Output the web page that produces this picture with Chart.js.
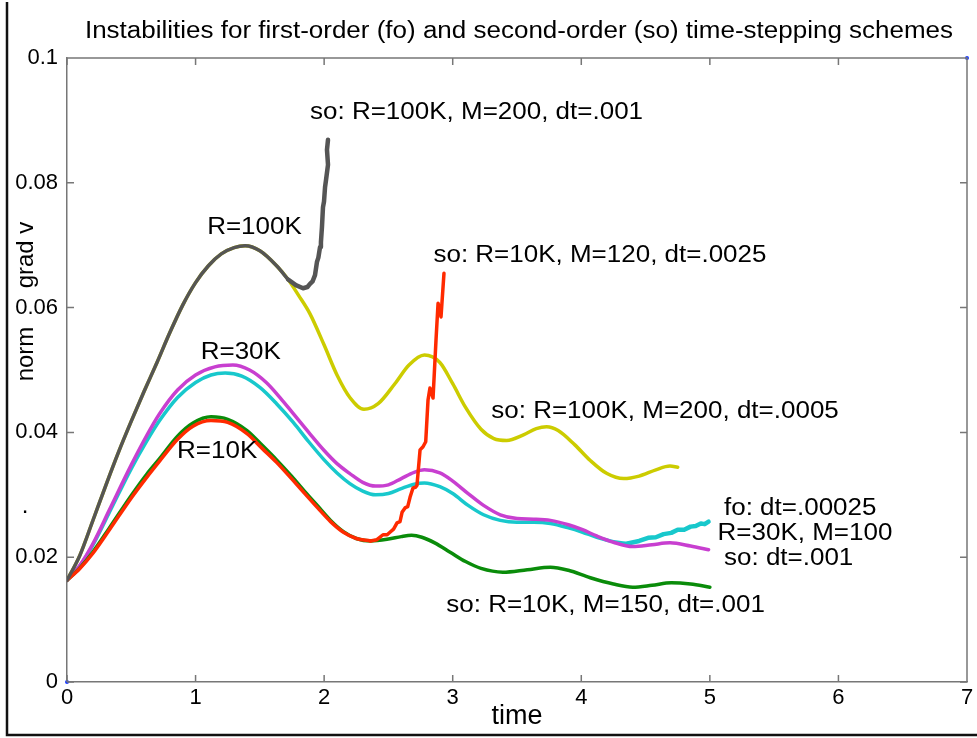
<!DOCTYPE html>
<html>
<head>
<meta charset="utf-8">
<title>Instabilities for time-stepping schemes</title>
<script src="https://cdn.jsdelivr.net/npm/chart.js@4.4.1/dist/chart.umd.min.js"></script>
<style>
    html, body { margin: 0; padding: 0; background: #fff; }
    #wrap { width: 977px; height: 738px; }
</style>
</head>
<body>
<div id="wrap"><canvas id="chart" width="977" height="738"></canvas></div>
<script>
// ============ DATA ============
const xTickLabels = ['0', '1', '2', '3', '4', '5', '6', '7'];
const yTickLabels = ['0', '0.02', '0.04', '0.06', '0.08', '0.1'];

// R=100K, common part of both second-order runs
const r100kTime = [0, 0.1, 0.2, 0.3, 0.4, 0.5, 0.6, 0.7, 0.8, 0.9, 1.0, 1.1, 1.2, 1.3, 1.385, 1.5, 1.63, 1.72];
const r100kNorm = [0.0163, 0.0203, 0.0258, 0.0314, 0.0368, 0.0418, 0.0466, 0.0512, 0.0560, 0.0604, 0.0640, 0.0667, 0.0686, 0.0696, 0.0699, 0.0691, 0.0667, 0.0645];

// so: R=100K, M=200, dt=.001 (blows up)
const so100kDt001Time = [1.72, 1.78, 1.836, 1.87, 1.89, 1.91, 1.929, 1.944, 1.955, 1.968, 1.975, 1.983, 1.991, 1.999, 2.007, 2.015, 2.03, 2.022, 2.03];
const so100kDt001Norm = [0.0645, 0.0636, 0.0631, 0.0633, 0.0638, 0.0642, 0.0652, 0.0673, 0.0680, 0.0697, 0.0705, 0.0729, 0.0761, 0.0770, 0.0793, 0.0805, 0.0829, 0.0853, 0.0869];

// so: R=100K, M=200, dt=.0005
const so100kDt0005Time = [1.80, 1.89, 2.0, 2.1, 2.2, 2.31, 2.42, 2.55, 2.66, 2.78, 2.9, 3.0, 3.1, 3.22, 3.32, 3.42, 3.55, 3.65, 3.73, 3.82, 3.95, 4.07, 4.2, 4.33, 4.45, 4.58, 4.69, 4.75];
const so100kDt0005Norm = [0.0620, 0.0590, 0.0540, 0.0492, 0.0456, 0.0437, 0.0446, 0.0478, 0.0508, 0.0524, 0.0512, 0.0478, 0.0440, 0.0405, 0.0390, 0.0387, 0.0396, 0.0406, 0.0409, 0.0403, 0.0380, 0.0355, 0.0334, 0.0326, 0.0330, 0.0340, 0.0346, 0.0344];

// R=30K, M=100, so dt=.001
const so30kTime = [0, 0.1, 0.2, 0.33, 0.5, 0.62, 0.72, 0.86, 1.0, 1.15, 1.29, 1.42, 1.55, 1.66, 1.76, 1.88, 2.0, 2.1, 2.2, 2.3, 2.4, 2.5, 2.6, 2.7, 2.78, 2.9, 3.0, 3.12, 3.24, 3.37, 3.5, 3.63, 3.76, 3.9, 4.01, 4.12, 4.25, 4.40, 4.55, 4.69, 4.85, 4.99];
const so30kNorm = [0.0163, 0.0187, 0.0221, 0.0276, 0.0348, 0.0395, 0.0430, 0.0468, 0.0492, 0.0505, 0.0508, 0.0500, 0.0480, 0.0455, 0.0430, 0.0400, 0.0371, 0.0350, 0.0334, 0.0320, 0.0314, 0.0316, 0.0326, 0.0336, 0.0340, 0.0335, 0.0322, 0.0302, 0.0283, 0.0268, 0.0262, 0.0261, 0.0259, 0.0252, 0.0244, 0.0234, 0.0224, 0.0217, 0.0220, 0.0223, 0.0218, 0.0212];

// R=30K, M=100, fo dt=.00025
const fo30kTime = [0, 0.1, 0.2, 0.33, 0.5, 0.62, 0.72, 0.86, 1.0, 1.12, 1.23, 1.36, 1.5, 1.63, 1.76, 1.88, 2.0, 2.1, 2.2, 2.3, 2.4, 2.5, 2.6, 2.7, 2.78, 2.9, 3.0, 3.12, 3.24, 3.37, 3.5, 3.63, 3.76, 3.9, 4.01, 4.12, 4.25, 4.36];
const fo30kNorm = [0.0163, 0.0186, 0.0219, 0.0272, 0.0342, 0.0386, 0.0419, 0.0456, 0.0480, 0.0492, 0.0495, 0.0490, 0.0472, 0.0446, 0.0416, 0.0385, 0.0356, 0.0335, 0.0318, 0.0306, 0.0300, 0.0302, 0.0310, 0.0317, 0.0319, 0.0313, 0.0302, 0.0283, 0.0268, 0.0259, 0.0256, 0.0256, 0.0254, 0.0247, 0.0240, 0.0232, 0.0225, 0.0222];
const fo30kTailTime = [4.36, 4.45, 4.52, 4.58, 4.64, 4.70, 4.75, 4.80, 4.85, 4.89, 4.93, 4.96, 4.99];
const fo30kTailNorm = [0.0222, 0.0226, 0.0231, 0.0232, 0.0237, 0.0239, 0.0244, 0.0244, 0.0249, 0.0250, 0.0254, 0.0253, 0.0257];

// so: R=10K, M=150, dt=.001
const so10kM150Time = [0, 0.1, 0.2, 0.33, 0.5, 0.62, 0.72, 0.86, 0.98, 1.12, 1.25, 1.4, 1.52, 1.63, 1.75, 1.85, 1.95, 2.05, 2.15, 2.25, 2.36, 2.5, 2.6, 2.68, 2.76, 2.86, 2.98, 3.1, 3.22, 3.39, 3.58, 3.76, 3.9, 4.07, 4.25, 4.40, 4.55, 4.7, 4.85, 5.0];
const so10kM150Norm = [0.0163, 0.0183, 0.0208, 0.0247, 0.0299, 0.0333, 0.0358, 0.0394, 0.0415, 0.0425, 0.0421, 0.0403, 0.0379, 0.0356, 0.0329, 0.0305, 0.0282, 0.0259, 0.0241, 0.0230, 0.0226, 0.0229, 0.0233, 0.0235, 0.0232, 0.0223, 0.0208, 0.0193, 0.0182, 0.0176, 0.0180, 0.0184, 0.0179, 0.0167, 0.0157, 0.0152, 0.0155, 0.0159, 0.0157, 0.0152];

// so: R=10K, M=120, dt=.0025 (smooth start, then blows up)
const so10kM120Time = [0, 0.1, 0.2, 0.33, 0.5, 0.62, 0.72, 0.86, 0.98, 1.12, 1.25, 1.4, 1.52, 1.63, 1.75, 1.85, 1.95, 2.05, 2.15, 2.25, 2.36];
const so10kM120Norm = [0.0163, 0.0182, 0.0206, 0.0244, 0.0295, 0.0328, 0.0354, 0.0389, 0.0410, 0.0419, 0.0416, 0.0398, 0.0374, 0.0352, 0.0325, 0.0302, 0.0279, 0.0257, 0.0240, 0.0230, 0.0226];
const so10kM120TailTime = [2.36, 2.41, 2.458, 2.49, 2.512, 2.54, 2.567, 2.59, 2.606, 2.629, 2.65, 2.668, 2.691, 2.71, 2.722, 2.746, 2.769, 2.79, 2.808, 2.823, 2.847, 2.870, 2.886, 2.909, 2.932];
const so10kM120TailNorm = [0.0226, 0.0228, 0.0236, 0.0236, 0.0240, 0.0245, 0.0255, 0.0257, 0.0272, 0.0279, 0.0281, 0.0296, 0.0311, 0.0312, 0.0315, 0.0372, 0.0377, 0.0385, 0.0452, 0.0471, 0.0455, 0.0548, 0.0607, 0.0585, 0.0655];

// corner markers of the axes box
const cornerTime = [0, 7];
const cornerNorm = [0, 0.1];

// text written next to the curves, placed in data units (left edge, middle)
const curveLabels = [
    { text: 'so: R=100K, M=200, dt=.001', x: 1.89, y: 0.0912 },
    { text: 'R=100K', x: 1.09, y: 0.0728 },
    { text: 'so: R=10K, M=120, dt=.0025', x: 2.85, y: 0.0683 },
    { text: 'R=30K', x: 1.04, y: 0.0527 },
    { text: 'so: R=100K, M=200, dt=.0005', x: 3.30, y: 0.0434 },
    { text: 'R=10K', x: 0.856, y: 0.0369 },
    { text: 'fo: dt=.00025', x: 5.11, y: 0.0278 },
    { text: 'R=30K, M=100', x: 5.06, y: 0.0238 },
    { text: 'so: dt=.001', x: 5.11, y: 0.0198 },
    { text: 'so: R=10K, M=150, dt=.001', x: 2.95, y: 0.0123 }
];

const FONT = "'Liberation Sans', Arial, Helvetica, sans-serif";
const STRETCH = 1.13;

// ============ HELPERS ============
function toPoints(xs, ys) {
    return xs.map((x, i) => ({ x, y: ys[i] }));
}

function curve(points, color, order, smooth, width) {
    return {
        data: points,
        borderColor: color,
        backgroundColor: color,
        borderWidth: width || 3.5,
        pointRadius: 0,
        showLine: true,
        fill: false,
        cubicInterpolationMode: smooth ? 'monotone' : 'default',
        tension: 0,
        borderCapStyle: 'round',
        borderJoinStyle: 'round',
        order
    };
}

function stretchedText(ctx, text, x, y, align) {
    ctx.save();
    ctx.translate(x, y);
    ctx.scale(STRETCH, 1);
    ctx.textAlign = align;
    ctx.fillText(text, 0, 0);
    ctx.restore();
}

function verticalText(ctx, text, x, y) {
    ctx.save();
    ctx.translate(x, y);
    ctx.rotate(-Math.PI / 2);
    ctx.textAlign = 'center';
    ctx.fillText(text, 0, 0);
    ctx.restore();
}

// ============ PLUGINS ============
const decorations = {
    id: 'decorations',
    afterDraw(chart) {
        const { ctx, chartArea: a, scales } = chart;
        const xs = scales.x, ys = scales.y;

        // top/right edges of the axes box and inward tick marks
        ctx.save();
        ctx.strokeStyle = '#777';
        ctx.lineWidth = 1.5;
        ctx.beginPath();
        ctx.moveTo(a.left, a.top);
        ctx.lineTo(a.right, a.top);
        ctx.lineTo(a.right, a.bottom);
        xs.ticks.forEach(t => {
            const px = xs.getPixelForValue(t.value);
            ctx.moveTo(px, a.bottom);
            ctx.lineTo(px, a.bottom - 7);
            ctx.moveTo(px, a.top);
            ctx.lineTo(px, a.top + 7);
        });
        ys.ticks.forEach(t => {
            const py = ys.getPixelForValue(t.value);
            ctx.moveTo(a.left, py);
            ctx.lineTo(a.left + 7, py);
            ctx.moveTo(a.right, py);
            ctx.lineTo(a.right - 7, py);
        });
        ctx.stroke();

        // figure frame
        ctx.strokeStyle = '#111';
        ctx.lineWidth = 2.5;
        ctx.beginPath();
        ctx.moveTo(7, 2);
        ctx.lineTo(7, 735);
        ctx.lineTo(977, 735);
        ctx.stroke();
        ctx.restore();

        // title, y label, curve labels
        ctx.save();
        ctx.fillStyle = '#000';
        ctx.textBaseline = 'middle';
        ctx.font = '23px ' + FONT;
        stretchedText(ctx, 'Instabilities for first-order (fo) and second-order (so) time-stepping schemes', 519, 32, 'center');

        ctx.font = '24px ' + FONT;
        verticalText(ctx, 'norm', 26, 354);
        verticalText(ctx, 'grad v', 26, 255);
        ctx.textAlign = 'center';
        ctx.fillText('.', 25, 506);

        ctx.font = '23px ' + FONT;
        curveLabels.forEach(l => {
            stretchedText(ctx, l.text, xs.getPixelForValue(l.x), ys.getPixelForValue(l.y), 'left');
        });
        ctx.restore();
    }
};

// ============ CHART ============
const r100kPoints = toPoints(r100kTime, r100kNorm);

const datasets = [
    curve(r100kPoints, '#555555', 0, true),
    curve(toPoints(so100kDt001Time, so100kDt001Norm), '#555555', 1, false, 4.5),
    curve(toPoints(so10kM120TailTime, so10kM120TailNorm), '#ff2a00', 2, false),
    curve(toPoints(so10kM120Time, so10kM120Norm), '#ff2a00', 3, true),
    curve(toPoints(so10kM150Time, so10kM150Norm), '#0a8c0a', 4, true),
    curve(toPoints(so30kTime, so30kNorm), '#c83fd0', 5, true),
    curve(toPoints(fo30kTailTime, fo30kTailNorm), '#18c8cc', 6, false, 4.5),
    curve(toPoints(fo30kTime, fo30kNorm), '#18c8cc', 7, true),
    curve(r100kPoints.concat(toPoints(so100kDt0005Time, so100kDt0005Norm)), '#cccc00', 8, true),
    {
        data: toPoints(cornerTime, cornerNorm),
        showLine: false,
        pointRadius: 2,
        pointBackgroundColor: '#1a3cff',
        pointBorderWidth: 0,
        clip: false,
        order: -1
    }
];

const ctx = document.getElementById('chart').getContext('2d');
new Chart(ctx, {
    type: 'scatter',
    data: { datasets },
    options: {
        responsive: false,
        animation: false,
        devicePixelRatio: 1,
        layout: { padding: { left: 0, right: 10, top: 58, bottom: 0 } },
        plugins: {
            legend: { display: false },
            tooltip: { enabled: false },
            title: { display: false }
        },
        scales: {
            x: {
                type: 'linear',
                min: 0,
                max: 7,
                ticks: {
                    stepSize: 1,
                    color: '#000',
                    padding: 3,
                    font: { family: FONT, size: 22 },
                    maxRotation: 0,
                    callback: (v, i) => xTickLabels[i]
                },
                grid: { display: false, drawTicks: false },
                border: { display: true, color: '#777', width: 1.5 },
                title: {
                    display: true,
                    text: 'time',
                    color: '#000',
                    font: { family: FONT, size: 27 },
                    padding: { top: 0, bottom: 5 }
                },
                afterFit: s => { s.height = 56; }
            },
            y: {
                type: 'linear',
                min: 0,
                max: 0.1,
                ticks: {
                    stepSize: 0.02,
                    color: '#000',
                    padding: 9,
                    font: { family: FONT, size: 22 },
                    callback: (v, i) => yTickLabels[i]
                },
                grid: { display: false, drawTicks: false },
                border: { display: true, color: '#777', width: 1.5 },
                afterFit: s => { s.width = 67; }
            }
        }
    },
    plugins: [decorations]
});
</script>
</body>
</html>
